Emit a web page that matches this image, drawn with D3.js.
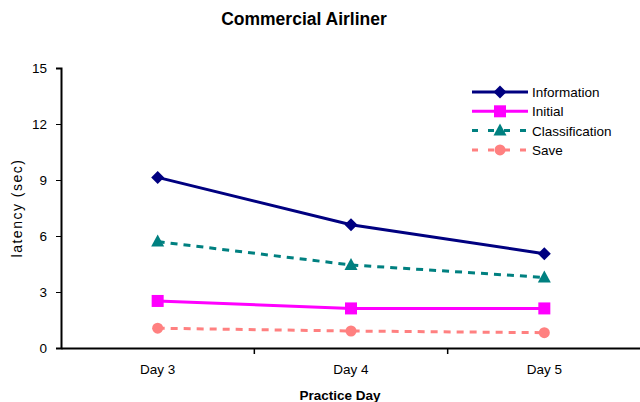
<!DOCTYPE html>
<html><head><meta charset="utf-8">
<script src="https://cdn.jsdelivr.net/npm/d3@7"></script>
<style>body{margin:0;background:#fff}svg{display:block;font-family:"Liberation Sans",Arial,sans-serif}</style>
</head><body><svg id="c" width="640" height="402"></svg>
<script>
const categories = ["Day 3", "Day 4", "Day 5"];
const information = [9.14, 6.6, 5.05];
const initial = [2.52, 2.12, 2.12];
const classification = [5.7, 4.45, 3.78];
const save = [1.06, 0.91, 0.82];
const yTicks = [0, 3, 6, 9, 12, 15];

const series = [
  {name: "Information", values: information, color: "#000080", dash: null, marker: "diamond"},
  {name: "Initial", values: initial, color: "#FF00FF", dash: null, marker: "square"},
  {name: "Classification", values: classification, color: "#008080", dash: "7,6", marker: "triangle"},
  {name: "Save", values: save, color: "#FF8080", dash: "7,6", marker: "circle"}
];

const svg = d3.select("#c");
const x = d3.scaleBand().domain(categories).range([61, 641]).padding(0);
const y = d3.scaleLinear().domain([0, 15]).range([348, 68]);

// title
svg.append("text").attr("x", 304).attr("y", 25).attr("text-anchor", "middle")
  .attr("font-size", 17.5).attr("font-weight", "bold").text("Commercial Airliner");

// y axis
const ya = svg.append("g").attr("transform", "translate(61,0)")
  .call(d3.axisLeft(y).tickValues(yTicks).tickSize(5).tickPadding(9));
ya.select(".domain").attr("stroke", "#000").attr("stroke-width", 2);
ya.selectAll(".tick line").attr("stroke", "#000");
ya.selectAll("text").attr("font-size", 13.5).attr("font-family", "Liberation Sans, Arial");

// x axis
const xa = svg.append("g").attr("transform", "translate(0,348)")
  .call(d3.axisBottom(x).tickSize(0).tickPadding(16));
xa.select(".domain").attr("stroke", "#000").attr("stroke-width", 2);
xa.selectAll("text").attr("font-size", 13.5).attr("font-family", "Liberation Sans, Arial");
xa.selectAll(".bnd").data(categories.slice(1)).enter().append("line")
  .attr("x1", d => x(d)).attr("x2", d => x(d)).attr("y1", 0).attr("y2", 6)
  .attr("stroke", "#000").attr("stroke-width", 1.5);

// axis titles
svg.append("text").attr("x", 340).attr("y", 400).attr("text-anchor", "middle")
  .attr("font-size", 13.5).attr("font-weight", "bold").text("Practice Day");
svg.append("text").attr("transform", "translate(22,208) rotate(-90)").attr("text-anchor", "middle")
  .attr("font-size", 14).attr("letter-spacing", 1.5).text("latency (sec)");

const cx = d => x(d) + x.bandwidth() / 2;
const line = d3.line().x((v, i) => cx(categories[i])).y(v => y(v));

function drawMarker(g, type, color, px, py) {
  if (type === "diamond") {
    g.append("path").attr("d", `M${px},${py-6.5}L${px+6.5},${py}L${px},${py+6.5}L${px-6.5},${py}Z`).attr("fill", color);
  } else if (type === "square") {
    g.append("rect").attr("x", px-6).attr("y", py-6).attr("width", 12).attr("height", 12).attr("fill", color);
  } else if (type === "triangle") {
    g.append("path").attr("d", `M${px},${py-7}L${px+6.5},${py+5}L${px-6.5},${py+5}Z`).attr("fill", color);
  } else {
    g.append("circle").attr("cx", px).attr("cy", py).attr("r", 5.5).attr("fill", color);
  }
}

series.forEach(s => {
  const g = svg.append("g");
  g.append("path").attr("d", line(s.values)).attr("fill", "none")
    .attr("stroke", s.color).attr("stroke-width", 3)
    .attr("stroke-dasharray", s.dash);
  s.values.forEach((v, i) => drawMarker(g, s.marker, s.color, cx(categories[i]), y(v)));
});

// legend
const leg = svg.append("g");
series.forEach((s, i) => {
  const ly = 92 + i * 19.3;
  leg.append("line").attr("x1", 472).attr("x2", 528).attr("y1", ly).attr("y2", ly)
    .attr("stroke", s.color).attr("stroke-width", 3).attr("stroke-dasharray", s.dash ? "6,10" : null);
  drawMarker(leg, s.marker, s.color, 500, ly);
  leg.append("text").attr("x", 532).attr("y", ly + 5).attr("font-size", 13.5).text(s.name);
});
</script></body></html>
